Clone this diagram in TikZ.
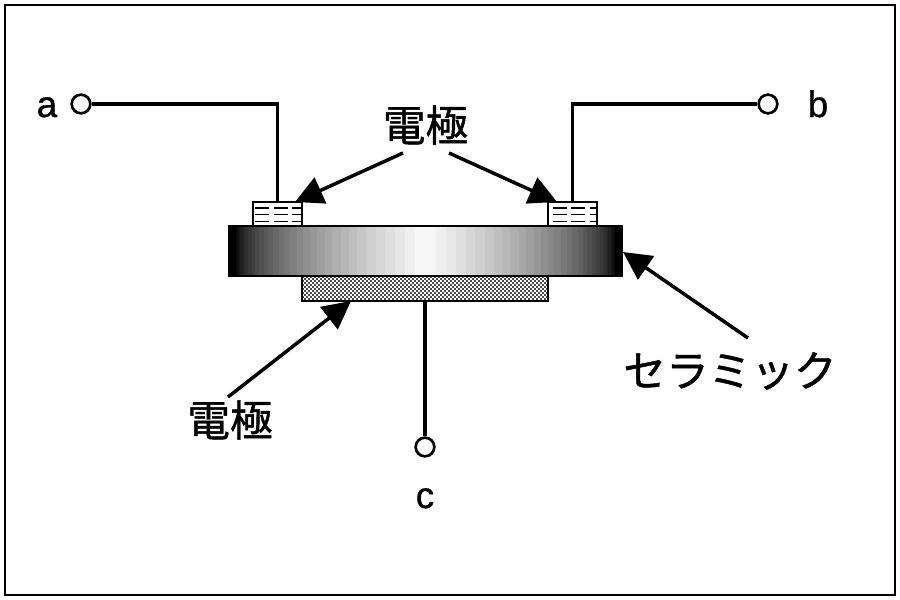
\documentclass[tikz,border=0pt]{standalone}
\usepackage{fontspec}
\setmainfont[FakeBold=1]{Liberation Sans}
\newfontfamily\cjk[FakeBold=1]{Noto Sans CJK JP}
\usetikzlibrary{arrows.meta,calc}
\tikzset{
  x=0.75pt,y=-0.75pt,
  frameline/.style={draw=black,line width=1.5pt},
  wire/.style={draw=black,line width=2.5pt},
  terminal/.style={circle,draw=black,line width=2pt,fill=white,minimum size=14pt,inner sep=0pt},
  pad/.style={rectangle,draw=black,line width=1.5pt,minimum width=36.4pt,minimum height=18pt,inner sep=0pt},
  latin/.style={font=\fontsize{27.5}{30}\selectfont,inner sep=0pt,anchor=base},
  jp/.style={font=\cjk\fontsize{32}{36}\selectfont,inner sep=0pt},
  pointer/.style={draw=black,line width=2.6pt,-{Triangle[length=21pt,width=21pt]}},
  platebox/.style={rectangle,draw=black,line width=1.5pt,minimum width=294.75pt,minimum height=37.5pt,inner sep=0pt},
  backbox/.style={rectangle,draw=black,line width=1.5pt,minimum width=184.5pt,minimum height=18.75pt,inner sep=0pt}
}
\begin{document}
\begin{tikzpicture}
\useasboundingbox (0,0) rectangle (900,600);
\fill[white] (0,0) rectangle (900,600);
\draw[frameline] (5,5) rectangle (895,595);

% ceramic gradient in nested steps
\fill[black] (229,226) rectangle (622,276);
\foreach \k in {1,...,31}{
  \pgfmathsetmacro{\fr}{0.035+0.965*pow(\k/32,1.8)}
  \pgfmathsetmacro{\xa}{229+196.5*\fr}
  \pgfmathsetmacro{\xb}{622-196.5*\fr}
  \pgfmathsetmacro{\g}{100*\k/32}
  \fill[color={white!\g!black}] (\xa,226) rectangle (\xb,276);
}
\node[platebox] (plate) at (425.5,251) {};

% back electrode with checker
\begin{scope}
  \clip (302,276) rectangle (548,301);
  \foreach \r in {0,...,12}{
    \pgfmathsetmacro{\yy}{277+\r*2}
    \pgfmathsetmacro{\ph}{mod(\r,2)*1.5}
    \draw[black!70,line width=1.5pt,dash pattern=on 1.5pt off 1.5pt,dash phase=\ph pt] (302,\yy) -- (548,\yy);
  }
\end{scope}
\node[backbox] (back) at (425,288.5) {};

% top electrodes
\node[pad] (padL) at (277.5,214) {};
\node[pad] (padR) at (572.5,214) {};
\foreach \p/\o in {padL/-22.5,padR/-20}{
  \foreach \yo in {-6,0.5,7.5}{
    \draw[black,line width=1pt,dash pattern=on 10.5pt off 3.5pt]
      ($(\p.center)+(\o,\yo)$) -- ($(\p.center)+(24,\yo)$);
  }
}

% terminals and labels
\node[terminal] (ta) at (81,104) {};
\node[terminal] (tb) at (768,104) {};
\node[terminal] (tc) at (425,447) {};
\node[latin] (la) at (47,117) {a};
\node[latin] (lb) at (818,117) {b};
\node[latin] (lc) at (425,508) {c};

\draw[wire,line join=miter] (ta.east) -| (padL.north);
\draw[wire,line join=miter] (tb.west) -| (padR.north);
\draw[wire] (back.south) -- (tc.north);

% callouts
\node[jp] (e1) at (425.5,125) {電極};
\node[jp] (e2) at (230,420) {電極};
\node[jp] (cer) at (730,371) {セラミック};
\coordinate (tipL) at (295,202);
\coordinate (tipR) at (557,202);
\coordinate (tipC) at (623,252);
\coordinate (tipB) at (351,301);
\coordinate (s1) at (403,153);
\coordinate (s2) at (449,153);
\coordinate (s3) at (748,338);
\coordinate (s4) at (228,397);
\draw[pointer] (s1) -- (tipL);
\draw[pointer] (s2) -- (tipR);
\draw[pointer] (s3) -- (tipC);
\draw[pointer] (s4) -- (tipB);
\end{tikzpicture}
\end{document}
